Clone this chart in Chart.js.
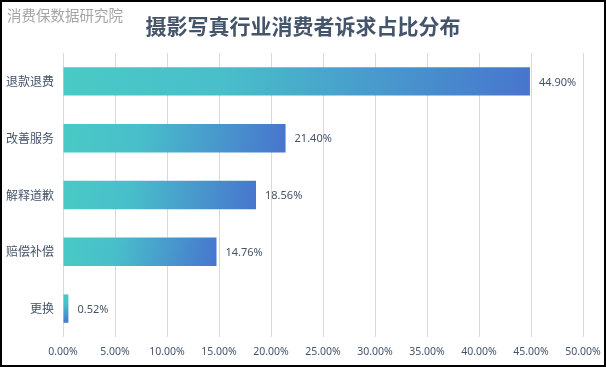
<!DOCTYPE html>
<html>
<head>
<meta charset="utf-8">
<script src="https://cdn.jsdelivr.net/npm/chart.js@4"></script>
<style>
  html, body { margin: 0; padding: 0; background: #fff; }
  #wrap { position: relative; width: 606px; height: 367px; overflow: hidden; }
  #frame { position: absolute; left: 0; top: 0; width: 606px; height: 367px; box-sizing: border-box; border: 2px solid #000; pointer-events: none; }
  #mark { position: absolute; left: 7px; top: 4px; font: 14.5px "Noto Sans CJK SC"; color: #a6a6a6; white-space: nowrap; }
  #title { position: absolute; left: 0; width: 606px; top: 10px; text-align: center; font: bold 21px "Noto Sans CJK SC"; color: #44546A; white-space: nowrap; }
</style>
</head>
<body>
<div id="wrap">
  <canvas id="chart" width="606" height="367"></canvas>
  <div id="mark">消费保数据研究院</div>
  <div id="title">摄影写真行业消费者诉求占比分布</div>
  <div id="frame"></div>
</div>
<script>
// data
const categories = ["退款退费", "改善服务", "解释道歉", "赔偿补偿", "更换"];
const shares = [44.90, 21.40, 18.56, 14.76, 0.52];
const tickMax = 50;
const tickStep = 5;

const textColor = "#44546A";
const barPct = 0.5;

// each bar gets its own diagonal teal -> blue gradient, sized from the scales
function barGradient(context) {
    const chart = context.chart;
    const xs = chart.scales.x;
    const ys = chart.scales.y;
    if (!xs || !ys || !chart.chartArea || context.dataIndex === undefined) return "#48C9C4";
    const i = context.dataIndex;
    const left = xs.getPixelForValue(0);
    const right = Math.max(xs.getPixelForValue(shares[i]), left + 5);
    const half = (chart.chartArea.height / categories.length) * barPct / 2;
    const cy = ys.getPixelForValue(i);
    const g = chart.ctx.createLinearGradient(left, cy - half, right, cy + half);
    g.addColorStop(0, "#49CAC5");
    g.addColorStop(0.35, "#48BECA");
    g.addColorStop(1, "#4875CE");
    return g;
}

const valueLabels = {
    id: "valueLabels",
    afterDatasetsDraw(chart) {
        const ctx = chart.ctx;
        const meta = chart.getDatasetMeta(0);
        ctx.save();
        ctx.font = "11px 'Noto Sans'";
        ctx.fillStyle = textColor;
        ctx.textAlign = "left";
        ctx.textBaseline = "middle";
        meta.data.forEach((bar, i) => {
            ctx.fillText(shares[i].toFixed(2) + "%", bar.x + 9, bar.y + 1);
        });
        ctx.restore();
    }
};

new Chart(document.getElementById("chart"), {
    type: "bar",
    data: {
        labels: categories,
        datasets: [{
            data: shares,
            backgroundColor: barGradient,
            borderWidth: 0,
            categoryPercentage: 1,
            barPercentage: barPct,
            minBarLength: 5
        }]
    },
    options: {
        indexAxis: "y",
        responsive: false,
        animation: false,
        layout: { padding: { top: 53, right: 23, bottom: 0, left: 0 } },
        plugins: {
            legend: { display: false },
            tooltip: { enabled: false }
        },
        scales: {
            x: {
                min: 0,
                max: tickMax,
                ticks: {
                    stepSize: tickStep,
                    padding: 9,
                    color: textColor,
                    font: { family: "Noto Sans", size: 10.5 },
                    callback: v => v.toFixed(2) + "%"
                },
                grid: { color: "#D9D9D9", lineWidth: 1, drawTicks: false },
                border: { display: false },
                afterFit(scale) { scale.height = 30; scale.paddingRight = 0; }
            },
            y: {
                ticks: {
                    padding: 9,
                    color: textColor,
                    font: { family: "Noto Sans CJK SC", size: 12 }
                },
                grid: { display: false, drawTicks: false },
                border: { display: false },
                afterFit(scale) { scale.width = 63; }
            }
        }
    },
    plugins: [valueLabels]
});
</script>
</body>
</html>
